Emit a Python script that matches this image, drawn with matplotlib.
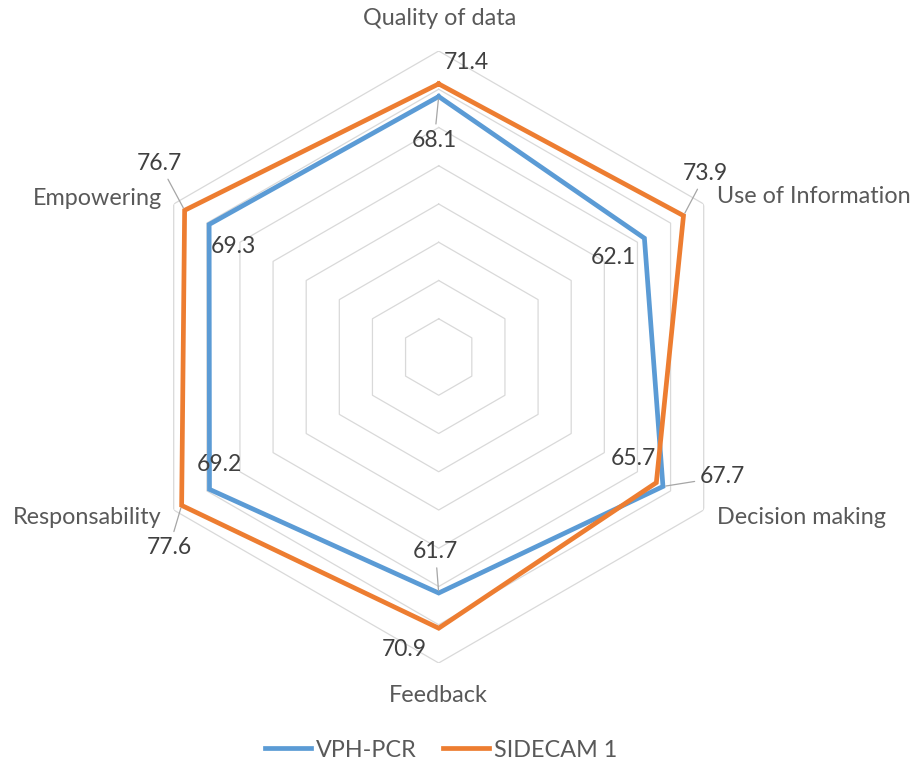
import numpy as np
import matplotlib
matplotlib.use("Agg")
import matplotlib.pyplot as plt

plt.rcParams["font.family"] = ["Lato", "DejaVu Sans"]

# ----------------------------------------------------------------------
# data
# ----------------------------------------------------------------------
categories = ["Quality of data", "Use of Information", "Decision making",
              "Feedback", "Responsability", "Empowering"]
vph_pcr = [68.1, 62.1, 67.7, 61.7, 69.2, 69.3]
sidecam = [71.4, 73.9, 65.7, 70.9, 77.6, 76.7]
series_names = ["VPH-PCR", "SIDECAM 1"]
r_max = 80
r_step = 10

BLUE = "#5B9BD5"
ORANGE = "#ED7D31"
GRID = "#D9D9D9"
CAT_COLOR = "#595959"
LABEL_COLOR = "#404040"
LEADER = "#A6A6A6"

# pixel offsets of each data label (baseline, centred) from its vertex
vph_offsets = [(-4.4, -50), (-30.6, -26), (59.8, 3), (-3.2, 34.7), (9.7, 18.6), (24.2, -28.8)]
sidecam_offsets = [(28, 14.6), (22.3, 35.7), (-22.5, 17.7), (-34.4, -27.8), (-12.5, -48.6), (-25.1, 40.3)]
vph_leaders = [True, False, True, True, False, False]
sidecam_leaders = [False, True, False, False, True, True]

# category label placement relative to the outer ring vertex
cat_offsets = [(1, 26), (13, 0.7), (13, -14.3), (0, -39), (-12, -14.3), (-11.7, -1)]
cat_ha = ["center", "left", "left", "center", "right", "right"]

angles = np.linspace(0, 2 * np.pi, len(categories), endpoint=False)
closed = np.append(angles, angles[0])

fig = plt.figure(figsize=(9.11, 7.63), dpi=100)
ax = fig.add_axes([0.14566, 0.13106, 0.67179, 0.80210], projection="polar")
ax.set_theta_offset(np.pi / 2)
ax.set_theta_direction(-1)
ax.set_ylim(0, r_max)
ax.set_axis_off()

# hexagonal gridlines
for r in range(r_step, r_max + 1, r_step):
    ax.plot(closed, [r] * len(closed), color=GRID, lw=0.9, zorder=1)

# series
for vals, color, name in [(vph_pcr, BLUE, series_names[0]), (sidecam, ORANGE, series_names[1])]:
    ax.plot(closed, vals + vals[:1], color=color, lw=3.4, label=name,
            solid_joinstyle="miter", zorder=3)

# data labels
def add_labels(vals, offsets, leaders):
    for a, v, (dx, dy), lead in zip(angles, vals, offsets, leaders):
        props = None
        if lead:
            props = dict(arrowstyle="-", color=LEADER, lw=0.9, shrinkA=2, shrinkB=2)
        ax.annotate(f"{v:.1f}", xy=(a, v), xytext=(dx, dy), textcoords="offset pixels",
                    ha="center", va="baseline", fontsize=16.5, color=LABEL_COLOR,
                    arrowprops=props, zorder=4)

add_labels(vph_pcr, vph_offsets, vph_leaders)
add_labels(sidecam, sidecam_offsets, sidecam_leaders)

# category names
for a, name, (dx, dy), ha in zip(angles, categories, cat_offsets, cat_ha):
    ax.annotate(name, xy=(a, r_max), xytext=(dx, dy), textcoords="offset pixels",
                ha=ha, va="baseline", fontsize=16.8, color=CAT_COLOR)

fig.legend(loc="center", bbox_to_anchor=(0.484, 0.017), ncol=2, frameon=False,
           fontsize=16.8, labelcolor=CAT_COLOR, handlelength=2.0,
           handletextpad=0.2, columnspacing=1.1)

fig.savefig("out.png", dpi=100)
